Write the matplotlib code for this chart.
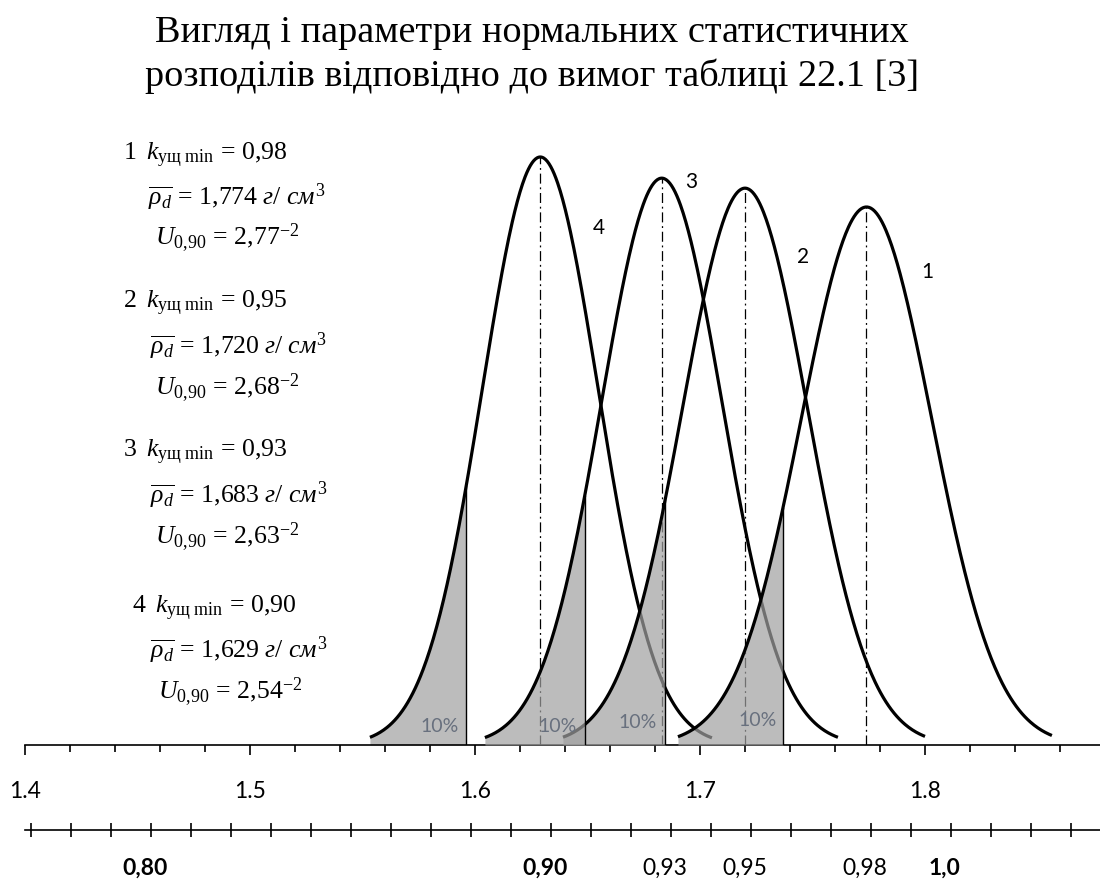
import numpy as np
import matplotlib
matplotlib.use("Agg")
import matplotlib.pyplot as plt
from matplotlib import transforms

# ---------------- data ----------------
curve_ids = ["1", "2", "3", "4"]
means = [1.774, 1.720, 1.683, 1.629]          # mean dry density, g/cm3
sigmas = [0.0290, 0.0277, 0.0267, 0.0257]      # standard deviation
peaks = [0.915, 0.947, 0.964, 1.0]             # relative peak heights
x_start = [1.6902, 1.6391, 1.6044, 1.5533]     # where each drawn curve starts
x_end = [1.8564, 1.8000, 1.7613, 1.7053]       # where each drawn curve ends
k_min = ["0,98", "0,95", "0,93", "0,90"]
rho_text = ["1,774", "1,720", "1,683", "1,629"]
u_text = ["2,77", "2,68", "2,63", "2,54"]
quantile_label = "10%"
z10 = -1.2816                                  # 10 % quantile of the normal law

rho_ticks_major = [1.4, 1.5, 1.6, 1.7, 1.8]
rho_tick_labels = ["1.4", "1.5", "1.6", "1.7", "1.8"]
k_ticks = [round(0.77 + 0.01 * i, 2) for i in range(27)]
k_labels_pos = [0.80, 0.90, 0.93, 0.95, 0.98, 1.00]
k_labels = ["0,80", "0,90", "0,93", "0,95", "0,98", "1,0"]
k_labels_bold = [True, True, False, False, False, True]

title = "Вигляд і параметри нормальних статистичних\nрозподілів відповідно до вимог таблиці 22.1 [3]"

# ---------------- figure ----------------
W, H = 1100, 883
fig = plt.figure(figsize=(W / 100, H / 100), dpi=100)
plt.rcParams["mathtext.fontset"] = "custom"
plt.rcParams["mathtext.rm"] = "Liberation Serif"
plt.rcParams["mathtext.it"] = "Liberation Serif:italic"
plt.rcParams["mathtext.bf"] = "Liberation Serif:bold"

def fx(px):
    return px / W

def fy(py):
    return 1 - py / H

SCALE = 2250.0   # pixels per 1 g/cm3
ax_left, ax_right = 25, 1100
base_y, top_y = 745, 145
ax = fig.add_axes([fx(ax_left), fy(base_y), fx(ax_right - ax_left), (base_y - top_y) / H])
ax.set_xlim(1.4, 1.4 + (ax_right - ax_left) / SCALE)
ax.set_ylim(0, (base_y - top_y) / 588)
for s in ["top", "right", "left"]:
    ax.spines[s].set_visible(False)
ax.spines["bottom"].set_linewidth(1.2)
ax.set_yticks([])
ax.set_xticks(rho_ticks_major)
ax.set_xticks(np.arange(1.40, 1.4 + (ax_right - ax_left) / SCALE, 0.02), minor=True)
ax.tick_params(axis="x", which="major", direction="out", length=7, width=1.2, labelbottom=False)
ax.tick_params(axis="x", which="minor", direction="out", length=5, width=1.2)

fill_col = (160 / 255, 160 / 255, 160 / 255)

def px2x(px):
    return 1.4 + (px - ax_left) / SCALE

def py2y(py):
    return (base_y - py) / 588

# dash-dot mean lines (under everything)
for m, p in zip(means, peaks):
    ax.plot([m, m], [0, p], color="black", lw=0.9, ls=(0, (8, 3, 1.5, 3)), zorder=1)

# curve groups drawn in order 4, 2, 3, 1 (fills partially cover earlier lines)
order = [3, 1, 2, 0]
z = 2
for i in order:
    m, s, p = means[i], sigmas[i], peaks[i]
    x = np.linspace(x_start[i], x_end[i], 400)
    y = p * np.exp(-0.5 * ((x - m) / s) ** 2)
    cut = m + z10 * s
    xf = np.linspace(x_start[i], cut, 200)
    yf = p * np.exp(-0.5 * ((xf - m) / s) ** 2)
    ax.fill_between(xf, 0, yf, color=fill_col, alpha=0.7, lw=0, zorder=z)
    ax.plot([cut, cut], [0, yf[-1]], color="black", lw=1.0, zorder=z + 0.5)
    ax.plot(x, y, color="black", lw=2.3, zorder=z + 1, solid_capstyle="butt")
    z += 2

# 10% labels
pct_pos = [(758, 720), (638, 722), (558, 726), (440, 726)]
for (px, py) in pct_pos:
    ax.text(px2x(px), py2y(py), quantile_label,
            ha="center", va="center", fontsize=14, color="#68707e",
            family="Lato", zorder=20)

# curve number labels
num_pos = [(927, 272), (803, 257), (691, 182), (599, 228)]
for cid, (px, py) in zip(curve_ids, num_pos):
    ax.text(px2x(px), py2y(py), cid,
            ha="center", va="center", fontsize=15, color="black",
            family="Lato", zorder=20)

# upper axis labels
tb = transforms.blended_transform_factory(ax.transData, fig.transFigure)
for v, lab in zip(rho_ticks_major, rho_tick_labels):
    ax.text(v, fy(792), lab, transform=tb, ha="center", va="center",
            fontsize=16.5, family="Lato", clip_on=False)

# lower (k) axis
ax2 = fig.add_axes([fx(ax_left), fy(830), fx(ax_right - ax_left), 0.0001])
ax2.set_xlim(0.8 + (ax_left - 151) / 4000, 0.8 + (ax_right - 151) / 4000)
for s in ["top", "right", "left"]:
    ax2.spines[s].set_visible(False)
ax2.spines["bottom"].set_linewidth(1.2)
ax2.set_yticks([])
ax2.set_xticks(k_ticks)
ax2.tick_params(axis="x", direction="inout", length=10, width=1.2, labelbottom=False)
tb2 = transforms.blended_transform_factory(ax2.transData, fig.transFigure)
for v, lab, b in zip(k_labels_pos, k_labels, k_labels_bold):
    ax2.text(v - 0.0015, fy(868), lab, transform=tb2, ha="center", va="center",
             fontsize=16.5, family="Lato", fontweight="bold" if b else "normal",
             clip_on=False)

# left annotation blocks
block_y = [(155, 197, 238), (303, 346, 388), (452, 495, 537), (608, 650, 692)]
block_x = [(123, 148, 155), (123, 150, 155), (123, 150, 155), (132, 150, 158)]
fs = 18.5
for i in range(4):
    (y1, y2, y3), (x1, x2, x3) = block_y[i], block_x[i]
    l1 = r"$\mathrm{%s}\;\; k_{\mathrm{ущ\ min}} \,=\, 0{,}%s$" % (curve_ids[i], k_min[i].split(",")[1])
    rho_i = rho_text[i].split(",")
    l2 = r"$\overline{\rho_{d}} \,=\, %s{,}%s\ \mathit{г}/\ \mathit{см}^{3}$" % (rho_i[0], rho_i[1])
    u_i = u_text[i].split(",")
    l3 = r"$U_{0{,}90} \,=\, %s{,}%s^{-2}$" % (u_i[0], u_i[1])
    fig.text(fx(x1), fy(y1), l1, ha="left", va="center", fontsize=fs)
    fig.text(fx(x2), fy(y2), l2, ha="left", va="center", fontsize=fs)
    fig.text(fx(x3), fy(y3), l3, ha="left", va="center", fontsize=fs)

# title
fig.text(fx(532), fy(55), title, ha="center", va="center", fontsize=27.5,
         family="Liberation Serif", linespacing=1.32)

fig.savefig("out.png", dpi=100)
